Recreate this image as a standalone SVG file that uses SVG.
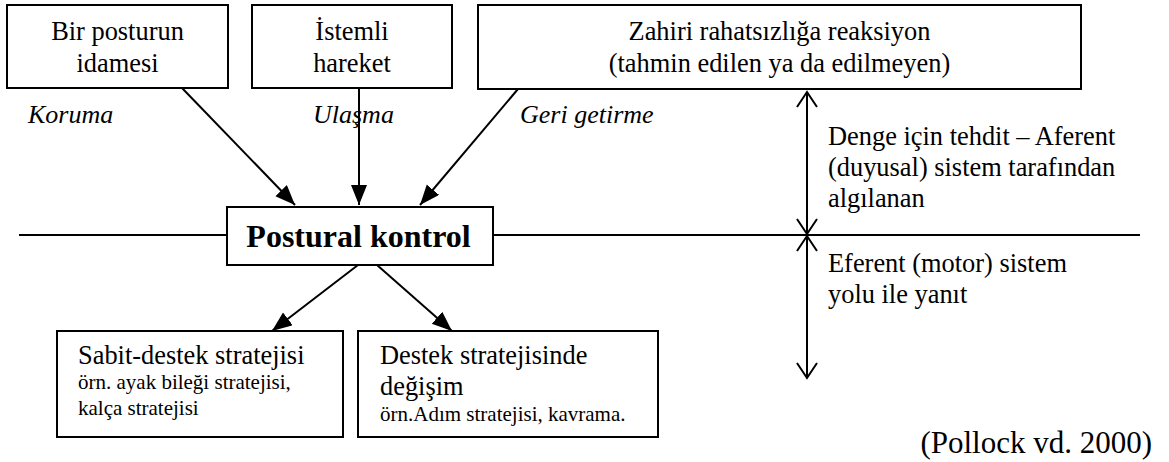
<svg xmlns="http://www.w3.org/2000/svg" width="1169" height="462" viewBox="0 0 1169 462">
<style>
text{font-family:"Liberation Serif","Times New Roman",serif;fill:#000}
.t{font-size:26.4px}
.s{font-size:21px}
.i{font-size:26px;font-style:italic}
.b{font-size:32px;font-weight:bold}
.r{font-size:31px;text-anchor:end}
.c{text-anchor:middle}
.box{fill:#fff;stroke:#000;stroke-width:2}
.ln{stroke:#000;stroke-width:2;fill:none}
</style>
<defs>
<marker id="fa" markerUnits="userSpaceOnUse" markerWidth="22" markerHeight="18" refX="20" refY="8" orient="auto">
<path d="M0,0 L20,8 L0,16 Z" fill="#000"/>
</marker>
<marker id="oa" markerUnits="userSpaceOnUse" markerWidth="20" markerHeight="24" refX="16" refY="11" orient="auto-start-reverse">
<path d="M1,1 L16,11 L1,21" fill="none" stroke="#000" stroke-width="2"/>
</marker>
</defs>
<g id="connectors">
<line class="ln" x1="19" y1="235" x2="1140" y2="235"/>
<line class="ln" x1="182" y1="88" x2="295" y2="205" marker-end="url(#fa)"/>
<line class="ln" x1="359" y1="88" x2="359" y2="205" marker-end="url(#fa)"/>
<line class="ln" x1="518" y1="89" x2="420" y2="205" marker-end="url(#fa)"/>
<line class="ln" x1="358" y1="265" x2="272" y2="331" marker-end="url(#fa)"/>
<line class="ln" x1="377" y1="265" x2="452" y2="331" marker-end="url(#fa)"/>
<line class="ln" x1="807" y1="92" x2="807" y2="234" marker-start="url(#oa)" marker-end="url(#oa)"/>
<line class="ln" x1="807" y1="236" x2="807" y2="378" marker-start="url(#oa)" marker-end="url(#oa)"/>
</g>
<g id="node-posture">
<rect class="box" x="7" y="5" width="221" height="83"/>
<text class="t c" x="117.5" y="40">Bir posturun</text>
<text class="t c" x="117.5" y="72">idamesi</text>
</g>
<g id="node-voluntary">
<rect class="box" x="252" y="5" width="200" height="83"/>
<text class="t c" x="352" y="40">İstemli</text>
<text class="t c" x="352" y="72">hareket</text>
</g>
<g id="node-reaction">
<rect class="box" x="478" y="5" width="603" height="84"/>
<text class="t c" x="779.5" y="40">Zahiri rahatsızlığa reaksiyon</text>
<text class="t c" x="779.5" y="72">(tahmin edilen ya da edilmeyen)</text>
</g>
<g id="labels">
<text class="i" x="28" y="123">Koruma</text>
<text class="i" x="313" y="123">Ulaşma</text>
<text class="i" x="520" y="123">Geri getirme</text>
<text class="t" x="828" y="145">Denge için tehdit – Aferent</text>
<text class="t" x="828" y="176">(duyusal) sistem tarafından</text>
<text class="t" x="828" y="207">algılanan</text>
<text class="t" x="828" y="272">Eferent (motor) sistem</text>
<text class="t" x="828" y="303">yolu ile yanıt</text>
<text class="r" x="1152" y="453">(Pollock vd. 2000)</text>
</g>
<g id="node-postural">
<rect class="box" x="227" y="207" width="266" height="58"/>
<text class="b c" x="358.5" y="247">Postural kontrol</text>
</g>
<g id="node-fixed">
<rect class="box" x="57" y="331" width="286" height="106"/>
<text class="t" x="78" y="364">Sabit-destek stratejisi</text>
<text class="s" x="78" y="389">örn. ayak bileği stratejisi,</text>
<text class="s" x="78" y="415">kalça stratejisi</text>
</g>
<g id="node-change">
<rect class="box" x="358" y="331" width="300" height="106"/>
<text class="t" x="380" y="364">Destek stratejisinde</text>
<text class="t" x="380" y="395">değişim</text>
<text class="s" x="380" y="421">örn.Adım stratejisi, kavrama.</text>
</g>
</svg>
